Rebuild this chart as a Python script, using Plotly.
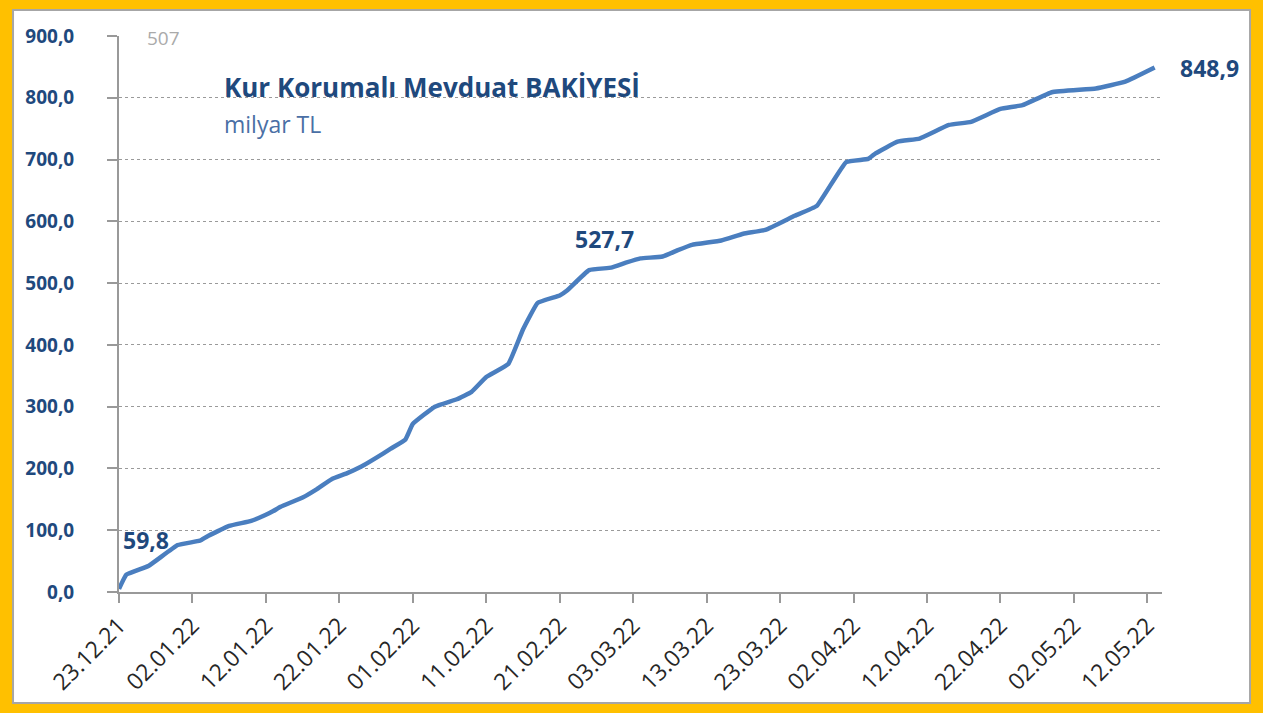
import plotly.graph_objects as go

dates = ["2021-12-23", "2021-12-24", "2021-12-27", "2021-12-31", "2022-01-03", "2022-01-04",
         "2022-01-07", "2022-01-10", "2022-01-12", "2022-01-13", "2022-01-14", "2022-01-17",
         "2022-01-19", "2022-01-21", "2022-01-23", "2022-01-25", "2022-01-27", "2022-01-29",
         "2022-01-31", "2022-02-01", "2022-02-04", "2022-02-07", "2022-02-09", "2022-02-11",
         "2022-02-14", "2022-02-16", "2022-02-18", "2022-02-21", "2022-02-22", "2022-02-25",
         "2022-02-28", "2022-03-02", "2022-03-04", "2022-03-07", "2022-03-09", "2022-03-11",
         "2022-03-15", "2022-03-18", "2022-03-21", "2022-03-25", "2022-03-28", "2022-04-01",
         "2022-04-04", "2022-04-05", "2022-04-08", "2022-04-11", "2022-04-15", "2022-04-18",
         "2022-04-22", "2022-04-25", "2022-04-29", "2022-05-05", "2022-05-09", "2022-05-13"]
values = [5, 28, 42, 76, 83, 90,
          107, 115, 125, 131, 138, 153,
          167, 183, 192, 203, 217, 232,
          247, 272, 300, 312, 324, 348,
          369, 425, 468, 480, 488, 521,
          525, 533, 540, 543, 553, 562,
          569, 580, 586, 609, 625, 696,
          701, 710, 729, 734, 756, 761,
          782, 788, 809, 815, 826, 848.9]

tick_dates = ["2021-12-23", "2022-01-02", "2022-01-12", "2022-01-22", "2022-02-01", "2022-02-11",
              "2022-02-21", "2022-03-03", "2022-03-13", "2022-03-23", "2022-04-02", "2022-04-12",
              "2022-04-22", "2022-05-02", "2022-05-12"]
tick_labels = ["23.12.21", "02.01.22", "12.01.22", "22.01.22", "01.02.22", "11.02.22",
               "21.02.22", "03.03.22", "13.03.22", "23.03.22", "02.04.22", "12.04.22",
               "22.04.22", "02.05.22", "12.05.22"]
y_ticks = [0, 100, 200, 300, 400, 500, 600, 700, 800, 900]

title_text = "Kur Korumalı Mevduat BAKİYESİ"
unit_text = "milyar TL"
label_texts = ["59,8", "527,7", "848,9"]
ghost_text = "507"

FONT = "Open Sans"
DARK = "#1F497D"

fig = go.Figure()
fig.add_trace(go.Scatter(x=dates, y=values, mode="lines",
                         line=dict(color="#4A7EBF", width=4.5, shape="spline", smoothing=0.3),
                         hoverinfo="x+y", showlegend=False))

fig.update_layout(
    width=1263, height=713,
    margin=dict(l=119, r=101, t=36, b=121),
    paper_bgcolor="#FFC000",
    plot_bgcolor="white",
    separators=",.",
    font=dict(family=FONT),
    xaxis=dict(
        type="date", range=["2021-12-23", "2022-05-14"],
        tickmode="array", tickvals=tick_dates, ticktext=tick_labels,
        tickangle=-45, tickfont=dict(size=23, color="#262626", family=FONT),
        ticks="outside", ticklen=9, tickcolor="#999999", tickwidth=1.5,
        showline=True, linecolor="#999999", linewidth=2,
        showgrid=False, zeroline=False,
    ),
    yaxis=dict(
        range=[0, 900], tickmode="array", tickvals=y_ticks, tickformat=".1f",
        tickfont=dict(size=19, color=DARK, family=FONT, weight="bold"),
        ticks="outside", ticklen=10, tickcolor="#999999", tickwidth=1.5,
        ticklabelstandoff=29,
        showline=True, linecolor="#999999", linewidth=2,
        showgrid=True, gridcolor="#9A9A9A", griddash="dot", gridwidth=1,
        zeroline=False,
    ),
    shapes=[dict(type="rect", xref="paper", yref="paper", x0=-0.1016, x1=1.0844,
                 y0=-0.1996, y1=1.0468, fillcolor="white",
                 line=dict(color="#A6A6A6", width=2), layer="below")],
)

ann = [
    dict(text=title_text, x=0.0988, y=0.908, font=dict(size=26, color=DARK, weight="bold")),
    dict(text=unit_text, x=0.0988, y=0.8417, font=dict(size=23, color="#4A6FA5")),
    dict(text=ghost_text, x=0.0249, y=0.9964, font=dict(size=19, color="#AAAAAA")),
    dict(text=label_texts[0], x=0.0019, y=0.0935, font=dict(size=23, color=DARK, weight="bold")),
    dict(text=label_texts[1], x=0.4353, y=0.6349, font=dict(size=23, color=DARK, weight="bold")),
    dict(text=label_texts[2], x=1.0153, y=0.9424, font=dict(size=23, color=DARK, weight="bold")),
]
for a in ann:
    fig.add_annotation(xref="paper", yref="paper", xanchor="left", yanchor="middle",
                       showarrow=False, font_family=FONT, **a)

fig.write_html("out.html", config={"displayModeBar": False},
               post_script="document.body.style.margin='0';")
